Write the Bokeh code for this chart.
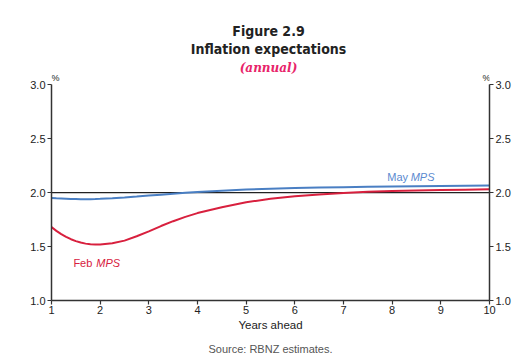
from bokeh.plotting import figure
from bokeh.models import Range1d, LinearAxis, FixedTicker, Label, NumeralTickFormatter, Title
from bokeh.embed import file_html
from bokeh.resources import INLINE

years = [1, 1.1, 1.2, 1.3, 1.4, 1.5, 1.6, 1.7, 1.8, 1.9, 2.0, 2.25, 2.5, 2.75, 3, 3.25, 3.5, 3.75,
         4, 4.5, 5, 5.5, 6, 6.5, 7, 7.5, 8, 8.5, 9, 9.5, 10]
feb_mps = [1.68, 1.645, 1.615, 1.59, 1.568, 1.55, 1.537, 1.527, 1.521, 1.519, 1.52, 1.53, 1.555, 1.595,
           1.64, 1.69, 1.735, 1.775, 1.81, 1.865, 1.91, 1.943, 1.965, 1.983, 1.997, 2.007, 2.014, 2.02,
           2.024, 2.027, 2.03]
may_mps = [1.95, 1.947, 1.945, 1.943, 1.941, 1.94, 1.939, 1.939, 1.939, 1.94, 1.942, 1.948, 1.955, 1.963,
           1.972, 1.981, 1.99, 1.998, 2.005, 2.018, 2.028, 2.036, 2.042, 2.046, 2.05, 2.053, 2.056, 2.059,
           2.061, 2.063, 2.065]
x_ticks = [1, 2, 3, 4, 5, 6, 7, 8, 9, 10]
y_ticks = [1.0, 1.5, 2.0, 2.5, 3.0]
target = 2.0

FONT = "Liberation Sans"
TFONT = "'DejaVu Sans Condensed', Roboto, 'Liberation Sans', sans-serif"
AX = "#333333"

W, H = 527, 364
FRAME_BOTTOM = 300  # page y of the x axis
p = figure(width=W, height=H, output_backend="svg", toolbar_location=None,
           x_range=Range1d(1, 10), y_range=Range1d(1, 3.78),
           min_border_left=51, min_border_right=38, min_border_top=0, min_border_bottom=64)
p.outline_line_color = None
p.grid.visible = False
p.background_fill_color = "white"
p.border_fill_color = "white"

def style_axis(ax):
    ax.axis_line_color = AX
    ax.axis_line_width = 1.5
    ax.major_tick_line_color = AX
    ax.major_tick_line_width = 1.2
    ax.major_tick_out = 4
    ax.major_tick_in = 0
    ax.minor_tick_line_color = None
    ax.major_label_text_font = FONT
    ax.major_label_text_font_size = "11px"
    ax.major_label_text_color = "#222222"

xa = p.xaxis[0]
xa.ticker = FixedTicker(ticks=x_ticks)
style_axis(xa)
xa.major_label_standoff = 1
xa.axis_label = "Years ahead"
xa.axis_label_text_font = FONT
xa.axis_label_text_font_size = "11.5px"
xa.axis_label_text_font_style = "normal"
xa.axis_label_text_color = "#222222"
xa.axis_label_standoff = 2

ya = p.yaxis[0]
ya.ticker = FixedTicker(ticks=y_ticks)
ya.formatter = NumeralTickFormatter(format="0.0")
ya.bounds = (y_ticks[0], y_ticks[-1])
style_axis(ya)
ya.major_label_standoff = 2

ra = LinearAxis(ticker=FixedTicker(ticks=y_ticks), formatter=NumeralTickFormatter(format="0.0"),
                bounds=(y_ticks[0], y_ticks[-1]))
style_axis(ra)
ra.major_label_standoff = 2
p.add_layout(ra, "right")

# source note below the axis
p.add_layout(Title(text="Source: RBNZ estimates.", align="center", text_font=FONT,
                   text_font_size="11px", text_font_style="normal", text_color="#555555",
                   standoff=14), "below")

p.line([x_ticks[0], x_ticks[-1]], [target, target], line_color="#222222", line_width=1.2)
p.line(years, feb_mps, line_color="#d8203e", line_width=2)
p.line(years, may_mps, line_color="#4a7fc3", line_width=2)

def lab(x, y, t, size="11px", color="#222222", style="normal", font=FONT, align="left"):
    p.add_layout(Label(x=x, y=y, text=t, text_font=font, text_font_size=size, text_color=color,
                       text_font_style=style, text_align=align, text_baseline="middle"))

def slab(px, py, t, size="11px", color="#222222", style="normal", font=FONT, align="center"):
    # page pixel position converted to frame-relative screen units
    p.add_layout(Label(x=px - 51, y=FRAME_BOTTOM - py, x_units="screen", y_units="screen", text=t,
                       text_font=font, text_font_size=size, text_color=color, text_font_style=style,
                       text_align=align, text_baseline="middle"))

slab(268, 30, "Figure 2.9", size="14px", style="bold", font=TFONT)
slab(268, 48, "Inflation expectations", size="14px", style="bold", font=TFONT)
slab(268, 67, "(annual)", size="12px", style="bold italic", font="DejaVu Serif", color="#e8246a")
slab(51, 77, "%", size="9px", align="left")
slab(490, 77, "%", size="9px", align="right")

lab(7.9, 2.14, "May", color="#5b8ad0")
lab(8.38, 2.14, "MPS", color="#5b8ad0", style="italic")
lab(1.45, 1.35, "Feb", color="#d8203e")
lab(1.92, 1.35, "MPS", color="#d8203e", style="italic")

open("out.html", "w").write(file_html(p, INLINE))
